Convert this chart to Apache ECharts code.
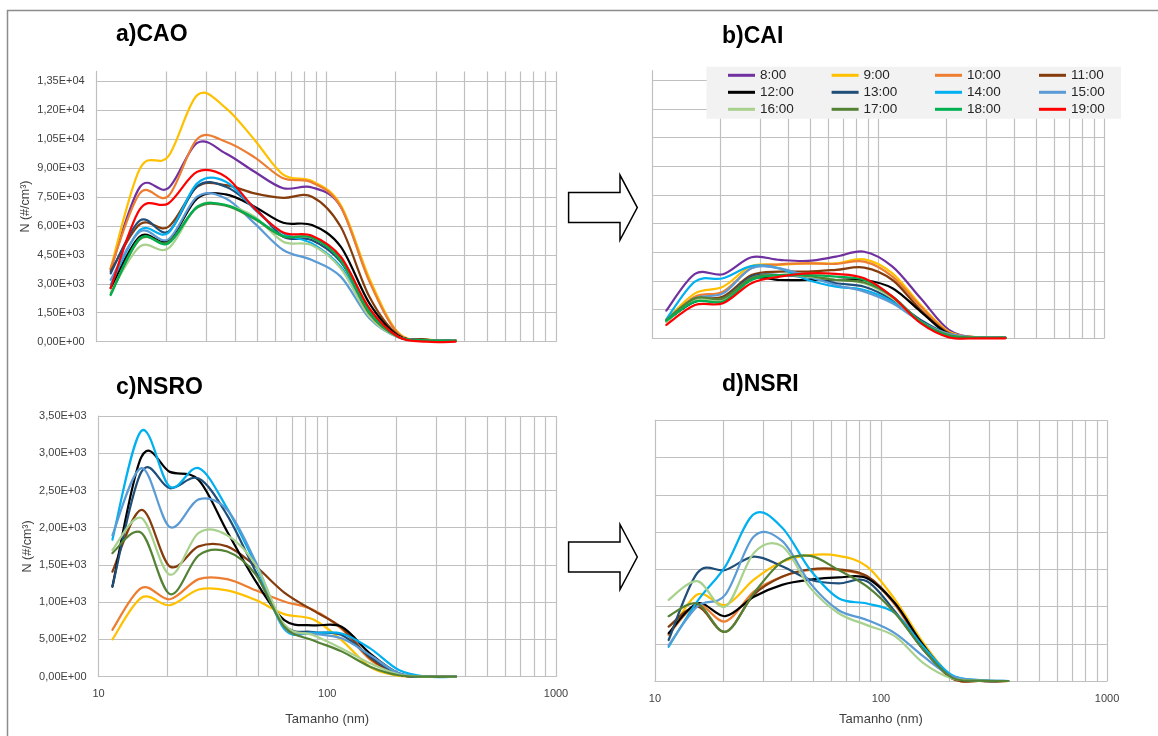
<!DOCTYPE html>
<html>
<head>
<meta charset="utf-8">
<script src="https://cdn.jsdelivr.net/npm/echarts@6/dist/echarts.min.js"></script>
<style>
  html, body { margin: 0; padding: 0; background: #ffffff; }
  #chart { width: 1158px; height: 736px; }
</style>
</head>
<body>
<div id="chart"></div>
<script>
// Particle size bins (nm)
const sizes = [11.5, 15.4, 20.5, 27.4, 36.5, 48.7, 64.9, 86.6, 115.5, 154.0, 205.4, 273.8, 365.2];

// Hours of the day (legend entries)
const hours = ['8:00', '9:00', '10:00', '11:00', '12:00', '13:00', '14:00', '15:00', '16:00', '17:00', '18:00', '19:00'];
const nsrHours = ['9:00', '10:00', '11:00', '12:00', '13:00', '14:00', '15:00', '16:00', '17:00'];

// a) CAO  -  N (#/cm3) per size bin
const cao08 = [3750, 8000, 7950, 10300, 9750, 8800, 7950, 7990, 7000, 3190, 430, 90, 60];
const cao09 = [3800, 8950, 9600, 12770, 12100, 10450, 8650, 8320, 7080, 3280, 470, 110, 80];
const cao10 = [3800, 7680, 7540, 10500, 10360, 9550, 8460, 8250, 6990, 3110, 430, 100, 70];
const cao11 = [3650, 6080, 5950, 8030, 8110, 7680, 7450, 7510, 5950, 2330, 345, 80, 50];
const cao12 = [2780, 5440, 5230, 7420, 7630, 6990, 6160, 6040, 4920, 1985, 310, 100, 60];
const cao13 = [3540, 6270, 5700, 8060, 8030, 6950, 5440, 5260, 4140, 1640, 260, 80, 50];
const cao14 = [2950, 5780, 5640, 8200, 8290, 6850, 5610, 5090, 3880, 1470, 260, 60, 50];
const cao15 = [3200, 5700, 5300, 7510, 7420, 6130, 4750, 4230, 3370, 1210, 230, 70, 50];
const cao16 = [2550, 4920, 4830, 6990, 7080, 6470, 5180, 5000, 3800, 1300, 230, 70, 50];
const cao17 = [2450, 5300, 5150, 6950, 7050, 6350, 5450, 5380, 4200, 1450, 250, 70, 50];
const cao18 = [2420, 5350, 5090, 6990, 7080, 6390, 5470, 5390, 4230, 1550, 260, 70, 50];
const cao19 = [2780, 6850, 7160, 8800, 8540, 6900, 5660, 5490, 4400, 1730, 260, 0, 0];

// b) CAI
const cai08 = [1450, 3370, 3350, 4240, 4100, 4050, 4270, 4530, 3750, 2090, 440, 50, 35];
const cai09 = [960, 2350, 2700, 3780, 3840, 3920, 3920, 4130, 3400, 1740, 350, 50, 35];
const cai10 = [920, 2180, 2440, 3660, 3870, 3920, 3890, 4010, 3230, 1660, 300, 50, 35];
const cai11 = [870, 2010, 2180, 3310, 3490, 3490, 3580, 3700, 3050, 1480, 260, 50, 35];
const cai12 = [920, 1920, 2010, 3140, 3050, 3050, 3050, 3050, 2620, 1400, 210, 40, 30];
const cai13 = [920, 2010, 2090, 3230, 3310, 3190, 2880, 2700, 2010, 960, 210, 40, 30];
const cai14 = [990, 2970, 3140, 3780, 3660, 3050, 2700, 2530, 1920, 870, 170, 35, 30];
const cai15 = [960, 2090, 2350, 3660, 3660, 3230, 2790, 2440, 1830, 870, 230, 40, 30];
const cai16 = [870, 2010, 2010, 3140, 3310, 3230, 3050, 2880, 2090, 870, 170, 35, 30];
const cai17 = [960, 2090, 2090, 3140, 3310, 3260, 3050, 2920, 2180, 870, 170, 35, 30];
const cai18 = [920, 1920, 1920, 3050, 3310, 3310, 3230, 3050, 2180, 870, 120, 30, 30];
const cai19 = [700, 1740, 1830, 2880, 3230, 3400, 3370, 3140, 2180, 790, 50, 0, 0];

// c) NSRO
const nsro09 = [500, 1060, 960, 1170, 1160, 1030, 840, 770, 490, 130, 13, 0, 0];
const nsro10 = [630, 1190, 1040, 1310, 1310, 1160, 1010, 900, 640, 230, 35, 0, 0];
const nsro11 = [1410, 2240, 1480, 1750, 1750, 1480, 1130, 890, 660, 250, 30, 0, 0];
const nsro12 = [1210, 2950, 2750, 2640, 1950, 1280, 760, 690, 670, 310, 45, 0, 0];
const nsro13 = [1210, 2750, 2530, 2660, 2170, 1410, 690, 600, 560, 270, 30, 0, 0];
const nsro14 = [1840, 3300, 2550, 2800, 2260, 1500, 640, 590, 580, 380, 90, 0, 0];
const nsro15 = [1900, 2800, 2010, 2380, 2240, 1540, 660, 580, 515, 290, 45, 0, 0];
const nsro16 = [1700, 2130, 1370, 1930, 1900, 1500, 700, 560, 380, 180, 30, 0, 0];
const nsro17 = [1660, 1930, 1110, 1630, 1680, 1370, 670, 490, 340, 135, 20, 0, 0];

// d) NSRI
const nsri09 = [620, 1160, 1020, 1360, 1600, 1690, 1680, 1540, 1090, 510, 70, 5, 0];
const nsri10 = [620, 1020, 800, 1200, 1400, 1490, 1490, 1400, 1020, 440, 36, 0, 0];
const nsri11 = [730, 1000, 660, 1160, 1400, 1500, 1500, 1410, 1040, 460, 36, 0, 0];
const nsri12 = [640, 1040, 870, 1130, 1290, 1360, 1390, 1380, 1040, 480, 58, 5, 0];
const nsri13 = [550, 1450, 1490, 1670, 1540, 1360, 1310, 1340, 930, 420, 58, 5, 0];
const nsri14 = [460, 1070, 1540, 2240, 2060, 1490, 1110, 1040, 910, 460, 80, 13, 0];
const nsri15 = [480, 1000, 1160, 1940, 1880, 1310, 950, 820, 640, 330, 67, 10, 0];
const nsri16 = [1090, 1340, 1000, 1720, 1810, 1250, 910, 750, 600, 240, 36, 5, 0];
const nsri17 = [870, 1040, 660, 1180, 1600, 1680, 1490, 1270, 910, 420, 49, 5, 0];

// Grid line positions
const xGridValues = [20, 30, 40, 50, 60, 70, 80, 90, 100, 200, 300, 400, 500, 600, 700, 800, 900, 1000];
const yGridCA = [1500, 3000, 4500, 6000, 7500, 9000, 10500, 12000, 13500];
const yGridNSR = [500, 1000, 1500, 2000, 2500, 3000, 3500];

// Line colour for each hour
const hourColors = {
  '8:00': '#7030A0', '9:00': '#FFC000', '10:00': '#ED7D31', '11:00': '#843C0C',
  '12:00': '#000000', '13:00': '#1F4E79', '14:00': '#00B0F0', '15:00': '#5B9BD5',
  '16:00': '#A9D18E', '17:00': '#548235', '18:00': '#00B050', '19:00': '#FF0000'
};

const FONT = "'Liberation Sans', Arial, sans-serif";
const GRID_COLOR = '#c0c0c0';

// 1,35E+04 style labels
function sci(v) {
  if (v === 0) return '0,00E+00';
  const e = Math.floor(Math.log10(Math.abs(v)) + 1e-9);
  const m = v / Math.pow(10, e);
  return m.toFixed(2).replace('.', ',') + 'E' + (e >= 0 ? '+' : '-') + String(Math.abs(e)).padStart(2, '0');
}

// Smoothed curve through the mapped points (Catmull-Rom style Bezier segments)
function smoothPath(api, pts) {
  const p = pts.map(d => api.coord(d));
  let d = 'M' + p[0][0] + ' ' + p[0][1];
  for (let i = 0; i < p.length - 1; i++) {
    const p0 = p[i - 1] || p[i], p1 = p[i], p2 = p[i + 1], p3 = p[i + 2] || p[i + 1];
    const c1x = p1[0] + (p2[0] - p0[0]) / 6, c1y = p1[1] + (p2[1] - p0[1]) / 6;
    const c2x = p2[0] - (p3[0] - p1[0]) / 6, c2y = p2[1] - (p3[1] - p1[1]) / 6;
    d += ' C' + [c1x, c1y, c2x, c2y, p2[0], p2[1]].join(' ');
  }
  return d;
}

const panels = [
  { rows: [cao08, cao09, cao10, cao11, cao12, cao13, cao14, cao15, cao16, cao17, cao18, cao19], names: hours,
    grid: { left: 96.7, top: 71.4, width: 459.3, height: 270.3 },
    yMax: 14000, yStep: 1500, yGrid: yGridCA, showY: true, showX: false, yNameGap: 65 },
  { rows: [cai08, cai09, cai10, cai11, cai12, cai13, cai14, cai15, cai16, cai17, cai18, cai19], names: hours,
    grid: { left: 652.6, top: 70.7, width: 451.5, height: 267.6 },
    yMax: 14000, yStep: 1500, yGrid: yGridCA, showY: false, showX: false },
  { rows: [nsro09, nsro10, nsro11, nsro12, nsro13, nsro14, nsro15, nsro16, nsro17], names: nsrHours,
    grid: { left: 98.5, top: 416, width: 457.5, height: 260.7 },
    yMax: 3500, yStep: 500, yGrid: yGridNSR, showY: true, showX: true, yNameGap: 64, xNameGap: 36 },
  { rows: [nsri09, nsri10, nsri11, nsri12, nsri13, nsri14, nsri15, nsri16, nsri17], names: nsrHours,
    grid: { left: 654.9, top: 420.3, width: 452.2, height: 260.7 },
    yMax: 3500, yStep: 500, yGrid: yGridNSR, showY: false, showX: true, xNameGap: 32 }
];

const grids = [], xAxes = [], yAxes = [], series = [];

panels.forEach((p, i) => {
  grids.push(Object.assign({ containLabel: false }, p.grid));

  xAxes.push({
    type: 'log', logBase: 10, min: 10, max: 1000, gridIndex: i,
    axisLine: { show: true, lineStyle: { color: GRID_COLOR, width: 1.2 } },
    axisTick: { show: false },
    splitLine: { show: false },
    axisLabel: { show: p.showX, fontFamily: FONT, fontSize: 11, color: '#404040', margin: 12,
                 formatter: v => String(Math.round(v)) },
    name: p.showX ? 'Tamanho (nm)' : '',
    nameLocation: 'middle', nameGap: p.xNameGap || 30,
    nameTextStyle: { fontFamily: FONT, fontSize: 13, color: '#404040' }
  });

  yAxes.push({
    type: 'value', min: 0, max: p.yMax, interval: p.yStep, gridIndex: i,
    axisLine: { show: true, onZero: false, lineStyle: { color: GRID_COLOR, width: 1.2 } },
    axisTick: { show: false },
    splitLine: { show: false },
    axisLabel: {
      show: p.showY, fontFamily: FONT, fontSize: 11, color: '#404040', margin: 12,
      formatter: v => (v % p.yStep === 0 ? sci(v) : '')
    },
    name: p.showY ? 'N (#/cm³)' : '',
    nameLocation: 'middle', nameGap: p.yNameGap || 60,
    nameTextStyle: { fontFamily: FONT, fontSize: 12.5, color: '#404040' }
  });

  // grid lines of the panel, drawn through the axes' own scales
  series.push({
    name: 'grade-' + i, type: 'line', xAxisIndex: i, yAxisIndex: i,
    data: [[10, 0]], symbol: 'none', showSymbol: false, lineStyle: { width: 0 },
    silent: true, z: 1, animation: false,
    markLine: {
      z: 1, silent: true, animation: false, symbol: ['none', 'none'],
      label: { show: false }, emphasis: { disabled: true },
      lineStyle: { color: GRID_COLOR, width: 1.2, type: 'solid' },
      data: xGridValues.map(v => ({ xAxis: v })).concat(p.yGrid.map(v => ({ yAxis: v })))
    }
  });

  p.rows.forEach((vals, k) => {
    const h = p.names[k];
    const c = hourColors[h];
    const pts = sizes.map((s, j) => [s, vals[j]]);
    series.push({
      name: h, type: 'custom', coordinateSystem: 'cartesian2d',
      xAxisIndex: i, yAxisIndex: i,
      data: pts, encode: { x: 0, y: 1 },
      color: c, itemStyle: { color: c },
      silent: true, z: 2, animation: false,
      renderItem: (params, api) => params.dataIndex === 0 ? {
        type: 'path',
        shape: { pathData: smoothPath(api, pts) },
        style: { fill: 'none', stroke: c, lineWidth: 2.2, lineJoin: 'round', lineCap: 'round' }
      } : null
    });
  });
});

// Legend: four columns of three entries
const legendCols = [['8:00', '12:00', '16:00'], ['9:00', '13:00', '17:00'], ['10:00', '14:00', '18:00'], ['11:00', '15:00', '19:00']];
const legendLeft = [706.5, 831.6, 935, 1039];
const legends = legendCols.map((col, c) => ({
  data: col, orient: 'vertical', left: legendLeft[c], top: 66.8,
  padding: c === 0 ? [0, 321, 1, 21.5] : 0,
  backgroundColor: c === 0 ? '#f2f2f2' : 'transparent',
  itemGap: 0, itemWidth: 27, itemHeight: 3, icon: 'rect',
  selectedMode: false,
  textStyle: { fontFamily: FONT, fontSize: 13.5, color: '#262626', lineHeight: 17, width: 40 }
}));

const titleStyle = { fontFamily: FONT, fontWeight: 'bold', fontSize: 23, color: '#000000' };

// Hollow block arrows between the panels and the figure frame
function arrow(x0, xb, xt, yc, shaftHalf, headHalf) {
  return [[x0, yc - shaftHalf], [xb, yc - shaftHalf], [xb, yc - headHalf], [xt, yc],
          [xb, yc + headHalf], [xb, yc + shaftHalf], [x0, yc + shaftHalf]];
}

const option = {
  animation: false,
  backgroundColor: '#ffffff',
  textStyle: { fontFamily: FONT },
  title: [
    { text: 'a)CAO', left: 116, top: 23, padding: 0, textStyle: titleStyle },
    { text: 'b)CAI', left: 722, top: 25, padding: 0, textStyle: titleStyle },
    { text: 'c)NSRO', left: 116, top: 376, padding: 0, textStyle: titleStyle },
    { text: 'd)NSRI', left: 722, top: 373, padding: 0, textStyle: titleStyle }
  ],
  legend: legends,
  grid: grids,
  xAxis: xAxes,
  yAxis: yAxes,
  series: series,
  graphic: [
    { type: 'polyline', silent: true, z: 0,
      shape: { points: [[7.5, 736], [7.5, 10.5], [1158, 10.5]] },
      style: { stroke: '#8c8c8c', lineWidth: 1.5, fill: null } },
    { type: 'polygon', silent: true,
      shape: { points: arrow(568.6, 620, 637.3, 207.6, 15, 32.5) },
      style: { fill: '#ffffff', stroke: '#000000', lineWidth: 1.5 } },
    { type: 'polygon', silent: true,
      shape: { points: arrow(568.6, 620, 637.3, 557, 15, 32.5) },
      style: { fill: '#ffffff', stroke: '#000000', lineWidth: 1.5 } }
  ]
};

const chart = echarts.init(document.getElementById('chart'), null, { renderer: 'canvas' });
chart.setOption(option);
</script>
</body>
</html>
